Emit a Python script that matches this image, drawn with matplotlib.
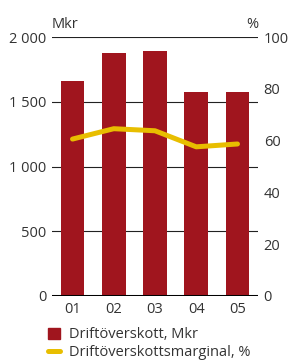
import matplotlib.pyplot as plt
from matplotlib.lines import Line2D
from matplotlib.patches import Patch

plt.rcParams["font.family"] = ["Open Sans", "DejaVu Sans"]

years = ["01", "02", "03", "04", "05"]
overskott = [1660, 1876, 1892, 1575, 1575]
marginal = [60.6, 64.6, 63.8, 57.6, 58.7]
left_ticks = [0, 500, 1000, 1500, 2000]
left_labels = ["0", "500", "1 000", "1 500", "2 000"]
right_ticks = [0, 20, 40, 60, 80, 100]

red = "#A0151E"
yellow = "#E8BE00"
txt = "#333333"
fs = 10.5

fig = plt.figure(figsize=(2.9, 3.63), dpi=100)
ax = fig.add_axes([0.179, 0.1846, 0.711, 0.7134])
x = range(len(years))

for v in left_ticks[1:]:
    ax.axhline(v, color="#222222", lw=0.8, zorder=0)
ax.bar(x, overskott, width=0.58, color=red, zorder=2)
ax.axhline(0, color="black", lw=2.2, zorder=3)
ax.set_xlim(-0.5, 4.5)
ax.set_ylim(0, 2000)
ax.set_yticks(left_ticks)
ax.set_yticklabels(left_labels)
ax.set_xticks(list(x))
ax.set_xticklabels(years)
for s in ax.spines.values():
    s.set_visible(False)
ax.tick_params(length=0, labelsize=fs, colors=txt, pad=4)
ax.tick_params(axis="y", pad=4)

ax2 = ax.twinx()
ax2.plot(list(x), marginal, color=yellow, lw=3.6, solid_capstyle="round", zorder=4)
ax2.set_ylim(0, 100)
ax2.set_yticks(right_ticks)
for s in ax2.spines.values():
    s.set_visible(False)
ax2.tick_params(length=0, labelsize=fs, colors=txt, pad=4)

fig.text(0.179, 0.912, "Mkr", fontsize=fs, color=txt, ha="left", va="bottom")
fig.text(0.89, 0.912, "%", fontsize=fs, color=txt, ha="right", va="bottom")

handles = [Patch(color=red), Line2D([0], [0], color=yellow, lw=3.6, solid_capstyle="round")]
labels = ["Driftöverskott, Mkr", "Driftöverskottsmarginal, %"]
fig.legend(handles, labels, loc="upper left", bbox_to_anchor=(0.165, 0.098),
           frameon=False, fontsize=fs, labelcolor=txt, handlelength=0.85,
           handleheight=0.85, handletextpad=0.6, labelspacing=0.2, borderaxespad=0,
           borderpad=0)

fig.savefig("out.png", dpi=100)
